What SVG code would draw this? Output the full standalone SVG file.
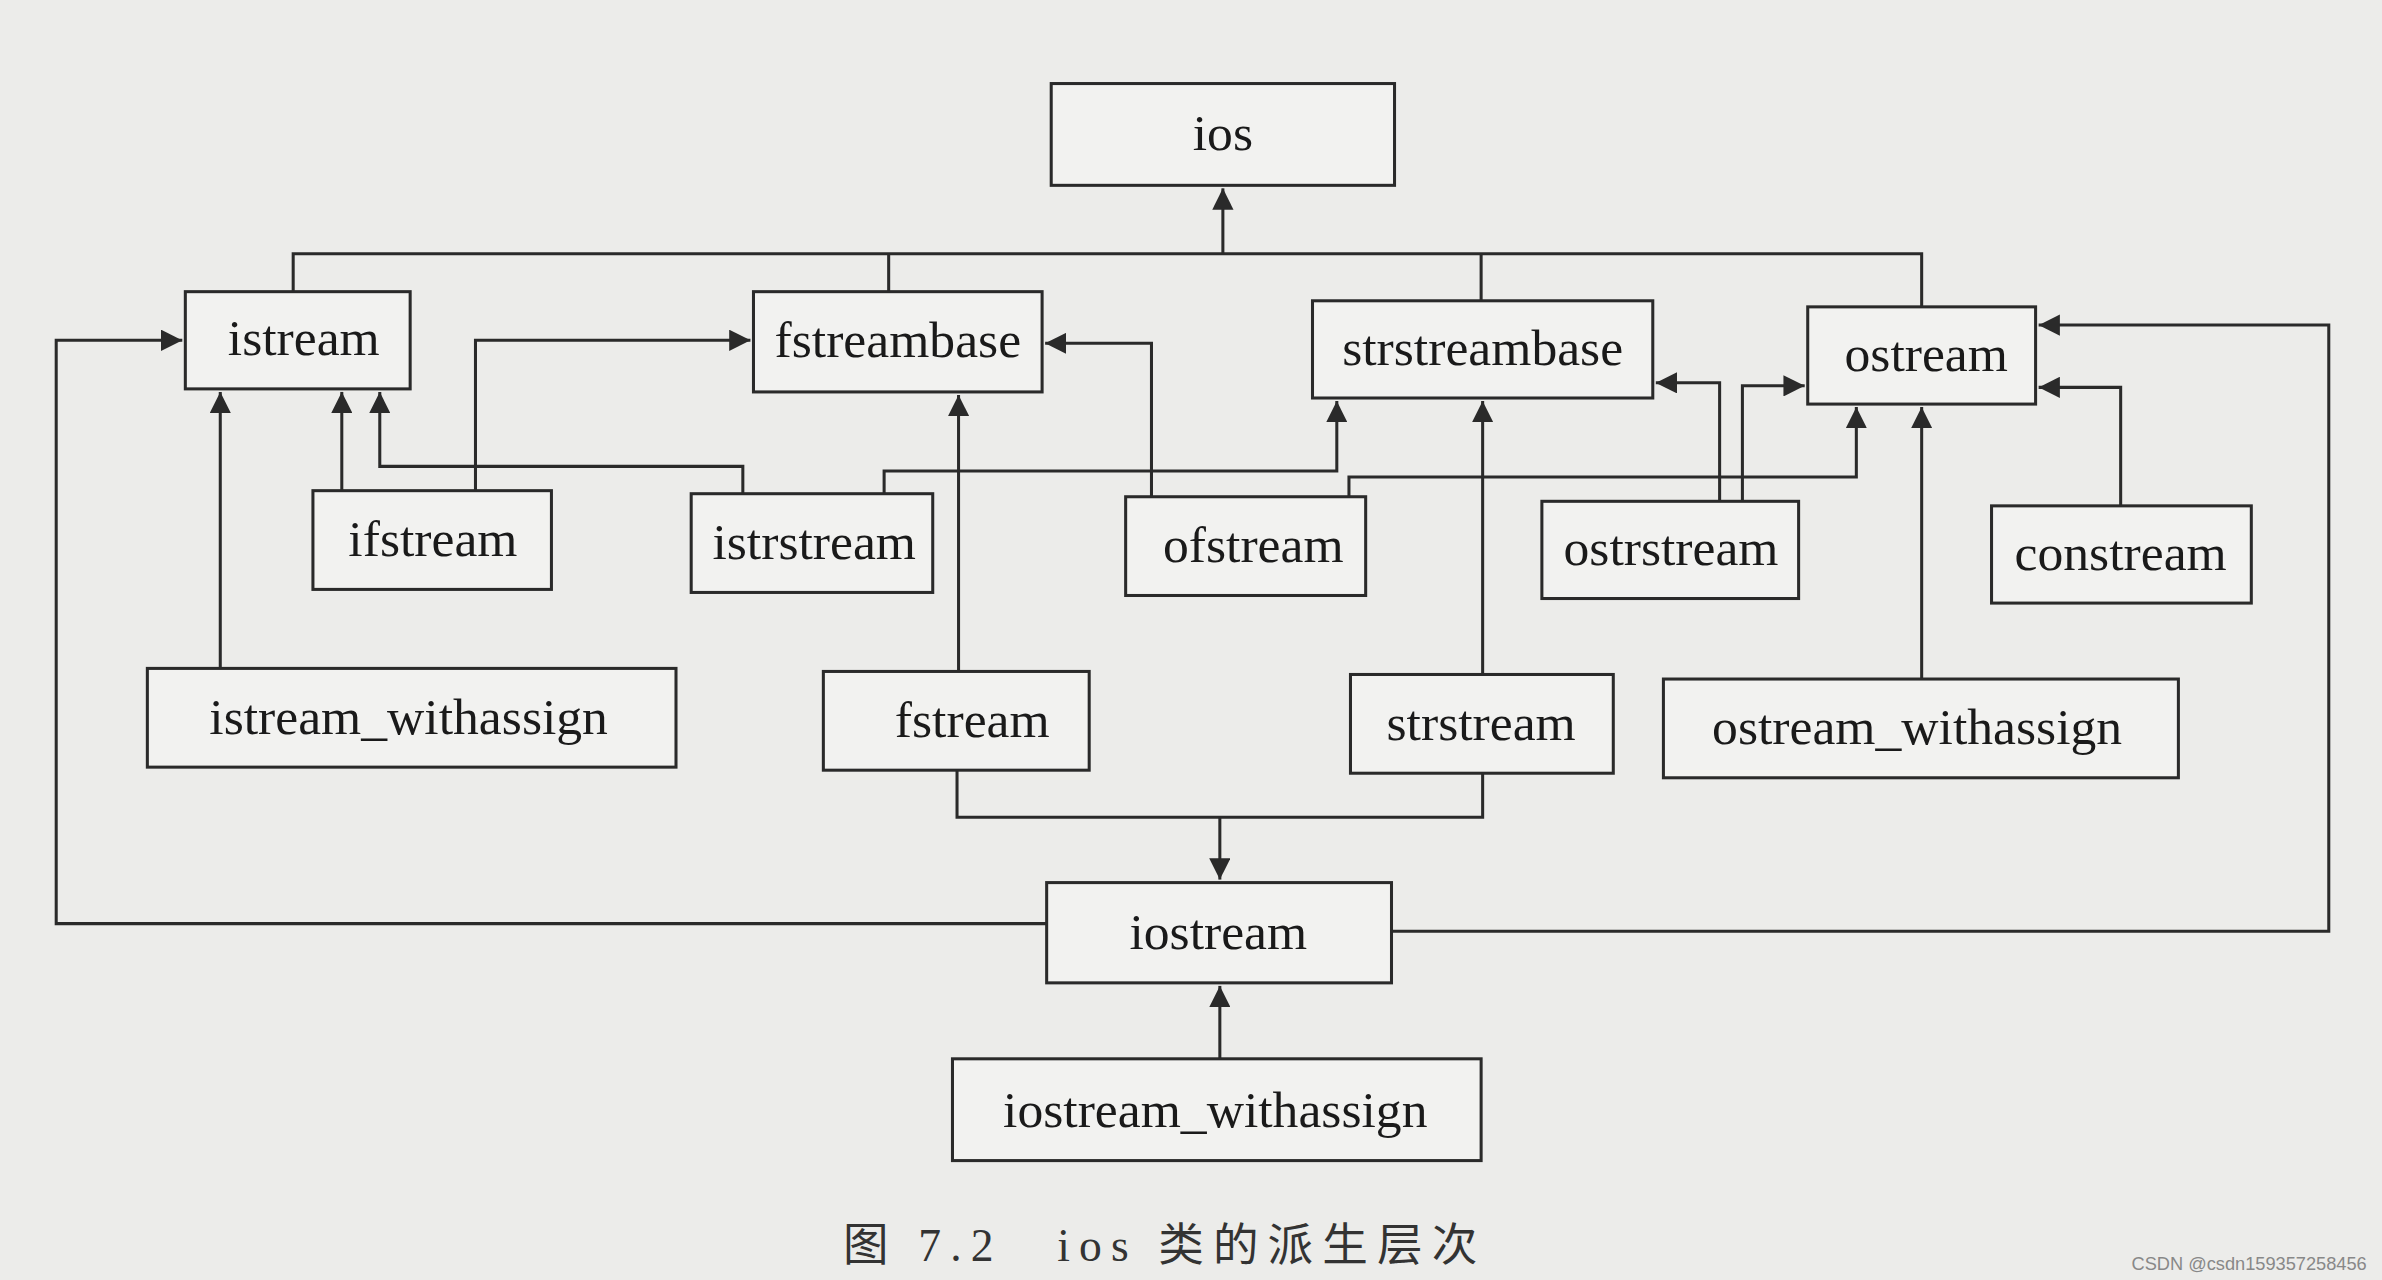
<svg xmlns="http://www.w3.org/2000/svg" width="2382" height="1280" viewBox="0 0 2382 1280">
<style>
.n rect{fill:#f2f2f0;stroke:#2a2a2a;stroke-width:2}
.n text{font-family:"Liberation Serif",serif;font-size:34px;fill:#1a1a1a;text-anchor:middle}
#c path{fill:none;stroke:#2a2a2a;stroke-width:2;marker-end:url(#a)}
#c path.p{marker-end:none}
</style>
<defs><marker id="a" viewBox="0 0 10 10" refX="10" refY="5" markerWidth="14" markerHeight="14" markerUnits="userSpaceOnUse" orient="auto"><path d="M0,0 L10,5 L0,10 z" fill="#2a2a2a"/></marker></defs>
<rect width="2382" height="1280" fill="#ececea"/>
<g transform="scale(1.5191)">
<g id="c">
<path class="p" d="M193,192V167H1265V202M585,167V192M975,167V198"/>
<path d="M805,167V124"/>
<path d="M225,323V258"/>
<path d="M313,323V224H494"/>
<path d="M489,325V307H250V258"/>
<path d="M582,325V310H880V264"/>
<path d="M888,327V314H1222V268"/>
<path d="M758,327V226H688"/>
<path d="M1132,330V252H1090"/>
<path d="M1147,330V254H1188"/>
<path d="M1396,333V255H1342"/>
<path d="M145,440V258"/>
<path d="M631,442V260"/>
<path d="M976,444V264"/>
<path d="M1265,447V268"/>
<path class="p" d="M630,507V538H976V509"/>
<path d="M803,538V579"/>
<path d="M689,608H37V224H120"/>
<path d="M916,613H1533V214H1342"/>
<path d="M803,697V649"/>
</g>
<g id="ios" class="n"><rect x="692" y="55" width="226" height="67"/><text x="805" y="99">ios</text></g>
<g id="istream" class="n"><rect x="122" y="192" width="148" height="64"/><text x="200" y="234">istream</text></g>
<g id="fstreambase" class="n"><rect x="496" y="192" width="190" height="66"/><text x="591" y="235">fstreambase</text></g>
<g id="strstreambase" class="n"><rect x="864" y="198" width="224" height="64"/><text x="976" y="240">strstreambase</text></g>
<g id="ostream" class="n"><rect x="1190" y="202" width="150" height="64"/><text x="1268" y="244">ostream</text></g>
<g id="ifstream" class="n"><rect x="206" y="323" width="157" height="65"/><text x="285" y="366">ifstream</text></g>
<g id="istrstream" class="n"><rect x="455" y="325" width="159" height="65"/><text x="536" y="368">istrstream</text></g>
<g id="ofstream" class="n"><rect x="741" y="327" width="158" height="65"/><text x="825" y="370">ofstream</text></g>
<g id="ostrstream" class="n"><rect x="1015" y="330" width="169" height="64"/><text x="1100" y="372">ostrstream</text></g>
<g id="constream" class="n"><rect x="1311" y="333" width="171" height="64"/><text x="1396" y="375">constream</text></g>
<g id="istream_withassign" class="n"><rect x="97" y="440" width="348" height="65"/><text x="269" y="483">istream_withassign</text></g>
<g id="fstream" class="n"><rect x="542" y="442" width="175" height="65"/><text x="640" y="485">fstream</text></g>
<g id="strstream" class="n"><rect x="889" y="444" width="173" height="65"/><text x="975" y="487">strstream</text></g>
<g id="ostream_withassign" class="n"><rect x="1095" y="447" width="339" height="65"/><text x="1262" y="490">ostream_withassign</text></g>
<g id="iostream" class="n"><rect x="689" y="581" width="227" height="66"/><text x="802" y="625">iostream</text></g>
<g id="iostream_withassign" class="n"><rect x="627" y="697" width="348" height="67"/><text x="800" y="742">iostream_withassign</text></g>
<text x="555" y="830" font-family="'Liberation Serif','Noto Sans CJK SC',serif" font-size="30" letter-spacing="6" fill="#333">图 7.2　ios 类的派生层次</text>
<text x="1558" y="836" font-family="'Liberation Sans',sans-serif" font-size="12" fill="#888" text-anchor="end">CSDN @csdn159357258456</text>
</g>
</svg>
